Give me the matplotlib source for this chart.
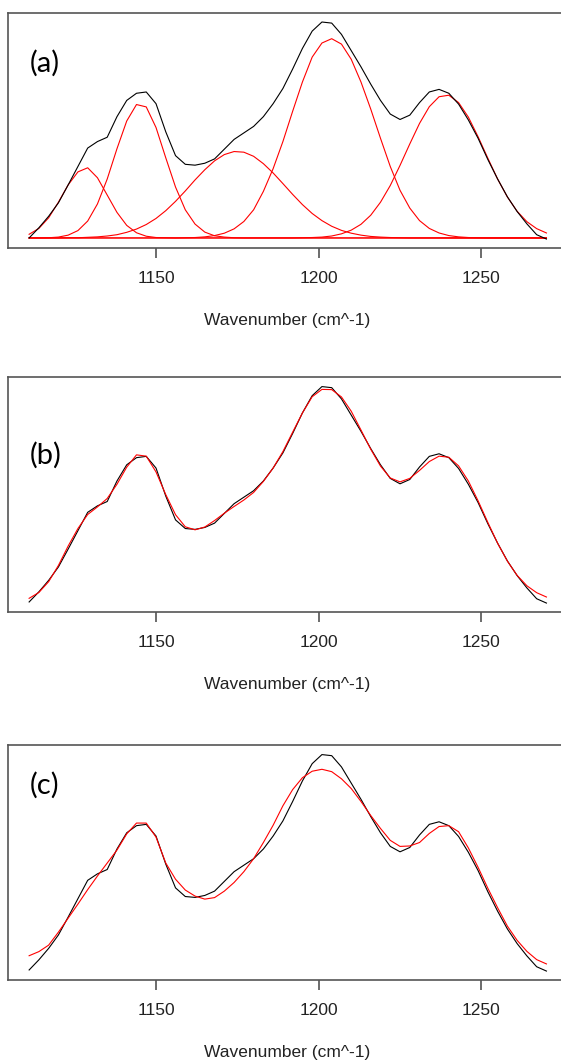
"""Gaussian band fitting of an IR spectrum, three panels (a)-(c)."""

import numpy as np
import matplotlib
matplotlib.use("Agg")
import matplotlib.pyplot as plt

###################################################################################################
###################################################################################################

# sampling grid (cm^-1)
WAVENUMBER = [1111, 1114, 1117, 1120, 1123, 1126, 1129, 1132, 1135, 1138,
              1141, 1144, 1147, 1150, 1153, 1156, 1159, 1162, 1165, 1168,
              1171, 1174, 1177, 1180, 1183, 1186, 1189, 1192, 1195, 1198,
              1201, 1204, 1207, 1210, 1213, 1216, 1219, 1222, 1225, 1228,
              1231, 1234, 1237, 1240, 1243, 1246, 1249, 1252, 1255, 1258,
              1261, 1264, 1267, 1270]

# measured spectrum (normalised absorbance)
SPECTRUM = [0.0, 0.047, 0.1, 0.162, 0.245, 0.33, 0.415, 0.445, 0.465, 0.56,
            0.635, 0.668, 0.674, 0.62, 0.49, 0.38, 0.34, 0.336, 0.345, 0.365,
            0.41, 0.455, 0.485, 0.515, 0.56, 0.62, 0.69, 0.78, 0.875, 0.955,
            0.997, 0.992, 0.94, 0.865, 0.79, 0.71, 0.635, 0.572, 0.547, 0.567,
            0.625, 0.674, 0.686, 0.668, 0.618, 0.545, 0.46, 0.362, 0.272, 0.19,
            0.122, 0.065, 0.015, -0.005]

# fitted bands, panel (a)
BAND_1128 = [0.017, 0.044, 0.093, 0.165, 0.245, 0.305, 0.324, 0.278, 0.198, 0.118,
             0.058, 0.024, 0.008, 0.002, 0.001] + [0.0] * 39
BAND_1145 = [0.0, 0.0, 0.001, 0.004, 0.013, 0.034, 0.078, 0.157, 0.272, 0.412,
             0.540, 0.616, 0.605, 0.51, 0.37, 0.235, 0.13, 0.064, 0.027, 0.01,
             0.004, 0.001] + [0.0] * 32
BAND_1175 = [0.0] * 4 + [0.001, 0.001, 0.003, 0.005, 0.009, 0.015, 0.026, 0.041, 0.062,
             0.090, 0.126, 0.169, 0.217, 0.268, 0.315, 0.356, 0.385, 0.399, 0.396,
             0.377, 0.343, 0.300, 0.251, 0.201, 0.154, 0.113, 0.080, 0.054, 0.035,
             0.022, 0.013, 0.007, 0.004, 0.002, 0.001] + [0.0] * 15
BAND_1204 = [0.0] * 16 + [0.001, 0.002, 0.005, 0.011, 0.022, 0.042, 0.076, 0.13, 0.215,
             0.32, 0.445, 0.585, 0.72, 0.835, 0.9, 0.92, 0.895, 0.825, 0.72,
             0.595, 0.46, 0.33, 0.22, 0.138, 0.08, 0.044, 0.023, 0.011, 0.005,
             0.002, 0.001] + [0.0] * 7
BAND_1239 = [0.0] * 28 + [0.001, 0.002, 0.004, 0.009, 0.019, 0.036, 0.063, 0.105, 0.165,
             0.242, 0.335, 0.434, 0.529, 0.606, 0.652, 0.659, 0.625, 0.558, 0.467,
             0.368, 0.272, 0.189, 0.123, 0.075, 0.043, 0.023]

# alternative fit, panel (c)
FIT_C = [0.066, 0.085, 0.115, 0.175, 0.24, 0.305, 0.372, 0.435, 0.495, 0.555,
         0.63, 0.68, 0.68, 0.615, 0.495, 0.42, 0.37, 0.342, 0.328, 0.335,
         0.365, 0.405, 0.455, 0.515, 0.59, 0.67, 0.76, 0.835, 0.89, 0.92,
         0.929, 0.918, 0.885, 0.84, 0.78, 0.715, 0.655, 0.6, 0.572, 0.574,
         0.59, 0.632, 0.664, 0.668, 0.64, 0.565, 0.475, 0.378, 0.288, 0.203,
         0.137, 0.086, 0.048, 0.028]

XTICKS = [1150, 1200, 1250]
XLABEL = "Wavenumber (cm^-1)"
PANEL_LABELS = ["(a)", "(b)", "(c)"]

W, H = 561, 1060


def setup_axes(fig, top_px, bottom_px):
    ax = fig.add_axes([8.3 / W, 1 - bottom_px / H, 557.0 / W, (bottom_px - top_px) / H])
    ax.set_xlim(1104.6, 1275.8)
    ax.set_ylim(-0.045, 1.04)
    ax.set_yticks([])
    ax.set_xticks(XTICKS)
    ax.tick_params(axis='x', length=7, width=1.1, color='#444444', pad=9.5,
                   labelsize=12.5, labelcolor='#222222')
    for s in ax.spines.values():
        s.set_color('#555555')
        s.set_linewidth(1.2)
    ax.set_xlabel(XLABEL, fontsize=12.5, color='#222222', labelpad=19.5)
    return ax


def main():

    plt.rcParams['font.family'] = ['Liberation Sans', 'DejaVu Sans']
    plt.rcParams['lines.solid_joinstyle'] = 'round'
    fig = plt.figure(figsize=(W / 100, H / 100), dpi=100)

    x = np.array(WAVENUMBER)
    bands = [BAND_1128, BAND_1145, BAND_1175, BAND_1204, BAND_1239]
    total = np.sum(np.array(bands), axis=0)

    #(a) spectrum with individual bands
    ax1 = setup_axes(fig, 12.7, 247.7)
    for b in bands:
        ax1.plot(x, b, color='red', lw=0.8)
    ax1.plot(x, SPECTRUM, color='black', lw=0.8)

    #(b) spectrum with sum of bands
    ax2 = setup_axes(fig, 377.3, 611.7)
    ax2.plot(x, SPECTRUM, color='black', lw=0.8)
    ax2.plot(x, total, color='red', lw=0.8)

    #(c) spectrum with alternative fit
    ax3 = setup_axes(fig, 745.3, 979.7)
    ax3.plot(x, SPECTRUM, color='black', lw=0.8)
    ax3.plot(x, FIT_C, color='red', lw=0.8)

    for lab, ypx in zip(PANEL_LABELS, [63, 455.5, 785]):
        fig.text(29.5 / W, 1 - ypx / H, lab, fontsize=21, family=['Lato', 'DejaVu Sans'],
                 ha='left', va='center', color='black')

    fig.savefig("out.png", dpi=100)


if __name__ == "__main__":
    main()
